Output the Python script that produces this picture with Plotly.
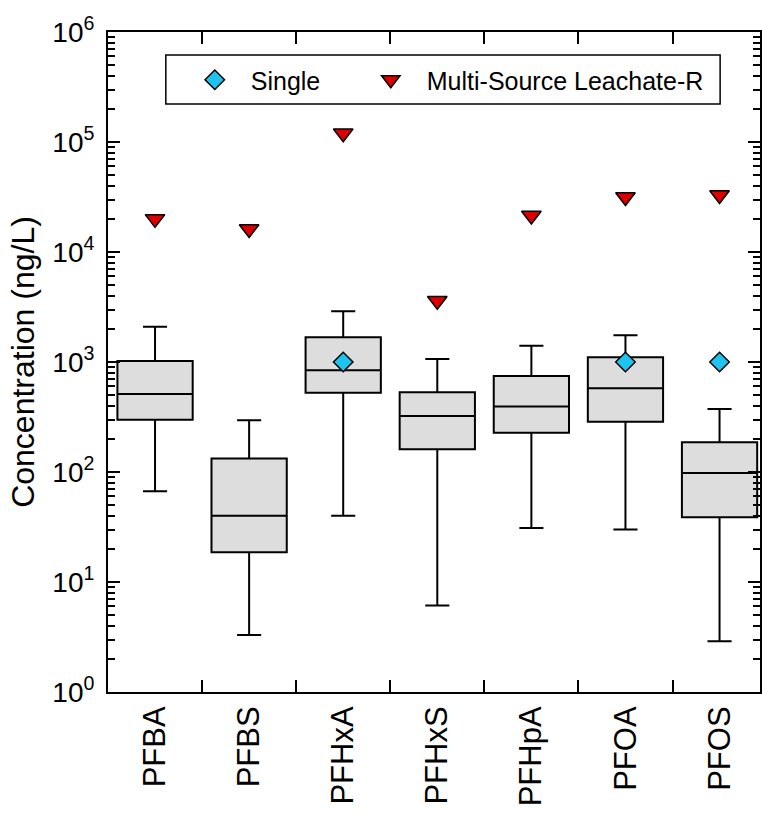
import plotly.graph_objects as go

categories = ["PFBA", "PFBS", "PFHxA", "PFHxS", "PFHpA", "PFOA", "PFOS"]
lower_whisker = [67, 3.3, 40, 6.1, 31, 30, 2.9]
q1 = [299, 18.6, 526, 161, 228, 287, 38.7]
median = [512, 40, 841, 323, 393, 577, 98]
q3 = [1021, 133, 1678, 530, 746, 1103, 186]
upper_whisker = [2094, 295, 2890, 1065, 1407, 1750, 374]

single_cats = ["PFHxA", "PFOA", "PFOS"]
single_vals = [1000, 1000, 1000]

leachate_cats = categories
leachate_vals = [20000, 16200, 120000, 3600, 21500, 31600, 33000]

ytick_vals = [1, 10, 100, 1000, 10000, 100000, 1000000]
ytick_text = ["10<sup>0</sup>", "10<sup>1</sup>", "10<sup>2</sup>", "10<sup>3</sup>",
              "10<sup>4</sup>", "10<sup>5</sup>", "10<sup>6</sup>"]
minor_vals = [m * d for d in [1, 10, 100, 1000, 10000, 100000] for m in range(2, 10)]

FONT = "Liberation Sans, Arial, sans-serif"

fig = go.Figure()
fig.add_trace(go.Box(
    x=categories, q1=q1, median=median, q3=q3,
    lowerfence=lower_whisker, upperfence=upper_whisker,
    boxpoints=False, width=0.8, whiskerwidth=0.32,
    fillcolor="#dcdddc", line=dict(color="black", width=2),
    showlegend=False, hoverinfo="skip",
))
fig.add_trace(go.Scatter(
    x=single_cats, y=single_vals, mode="markers", name="Single",
    legendwidth=99,
    marker=dict(symbol="diamond", size=15, color="#1ec3ef",
                line=dict(color="black", width=1.5)),
))
fig.add_trace(go.Scatter(
    x=leachate_cats, y=leachate_vals, mode="markers", name="Multi-Source Leachate-R",
    legendwidth=300,
    marker=dict(symbol="triangle-down", size=17, color="#dd0000",
                line=dict(color="black", width=1.5)),
))

# legend frame (paper coords)
fig.add_shape(type="rect", xref="paper", yref="paper",
              x0=(166 - 108) / 654, x1=(722 - 108) / 654,
              y0=(692 - 104) / 660, y1=(692 - 55) / 660,
              line=dict(color="black", width=1.5), fillcolor="white", layer="below")

fig.update_layout(
    width=762, height=813,
    margin=dict(l=108, r=0, t=32, b=121),
    paper_bgcolor="white", plot_bgcolor="rgba(0,0,0,0)",
    font=dict(family=FONT, color="black", size=24),
    legend=dict(
        orientation="h", x=(179 - 108) / 654, y=(692 - 80) / 660,
        xanchor="left", yanchor="middle",
        borderwidth=0, bgcolor="rgba(0,0,0,0)",
        font=dict(size=25), itemwidth=62,
    ),
    xaxis=dict(
        type="category", categoryorder="array", categoryarray=categories,
        range=[-0.5, 6.43], tickson="boundaries",
        ticks="inside", ticklen=12, tickwidth=2, tickcolor="black",
        showline=True, linewidth=2, linecolor="black", mirror="allticks",
        tickangle=-90, tickfont=dict(size=31), showgrid=False,
    ),
    yaxis=dict(
        type="log", range=[0, 6],
        tickmode="array", tickvals=ytick_vals, ticktext=ytick_text,
        ticks="inside", ticklen=12, tickwidth=2, tickcolor="black",
        showline=True, linewidth=2, linecolor="black", mirror="allticks",
        showgrid=False, tickfont=dict(size=28), ticklabelstandoff=6,
        minor=dict(tickmode="array", tickvals=minor_vals, ticks="inside",
                   ticklen=7, tickwidth=2, tickcolor="black", showgrid=False),
        title=dict(text="Concentration (ng/L)", font=dict(size=32), standoff=8),
        zeroline=False,
    ),
)

fig.write_html("out.html")
